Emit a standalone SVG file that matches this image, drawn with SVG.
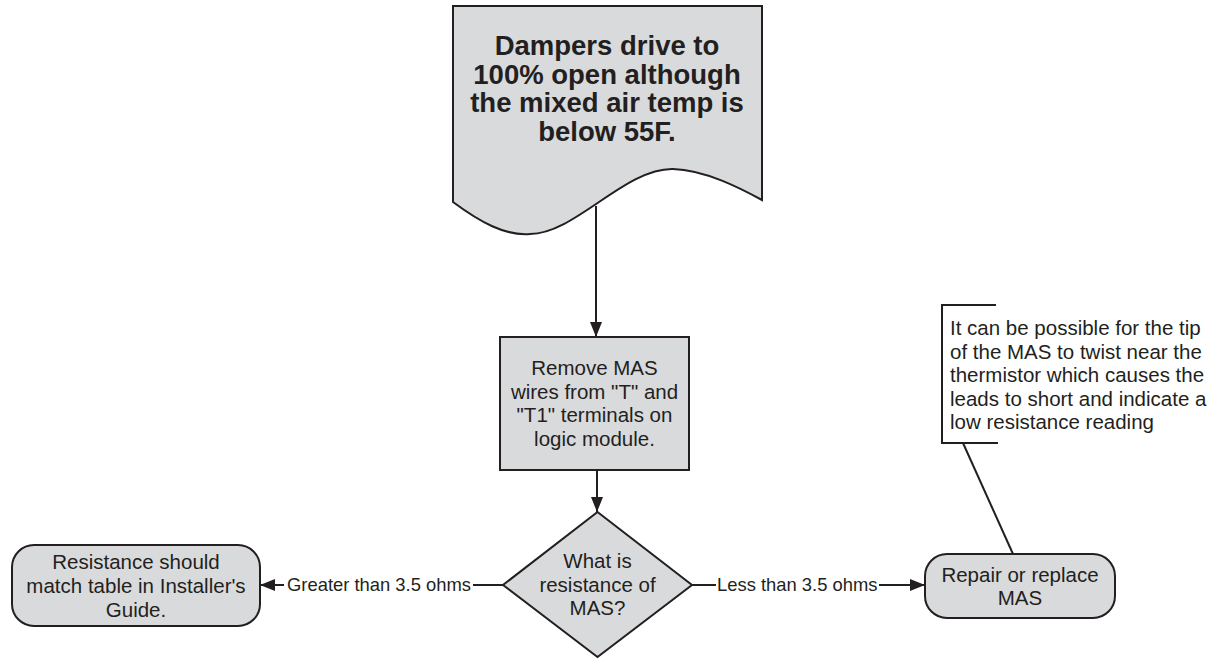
<svg xmlns="http://www.w3.org/2000/svg" width="1214" height="660" viewBox="0 0 1214 660">
<style>
.shape{fill:#d9dadc;stroke:#231f20;stroke-width:2}
.line{fill:none;stroke:#231f20;stroke-width:2}
.t{font-family:"Liberation Sans",Arial,sans-serif;font-size:20.5px;fill:#231f20;text-anchor:middle}
.b{font-weight:bold;font-size:27.5px}
.s{text-anchor:start}
.lbl{font-size:18.4px}
</style>
<defs>
<marker id="arr" viewBox="0 0 15 12" refX="15" refY="6" markerWidth="15" markerHeight="12" markerUnits="userSpaceOnUse" orient="auto">
<path d="M0,0 L15,6 L0,12 Z" fill="#231f20"/>
</marker>
</defs>
<rect width="1214" height="660" fill="#ffffff"/>
<g id="connectors">
<line class="line" x1="596" y1="206" x2="596" y2="337" marker-end="url(#arr)"/>
<line class="line" x1="597" y1="470" x2="597" y2="512" marker-end="url(#arr)"/>
<line class="line" x1="503" y1="585" x2="473" y2="585"/>
<line class="line" x1="284" y1="585" x2="260" y2="585" marker-end="url(#arr)"/>
<text class="t s lbl" x="287" y="591">Greater than 3.5 ohms</text>
<line class="line" x1="692" y1="585" x2="716" y2="585"/>
<line class="line" x1="879" y1="585" x2="925" y2="585" marker-end="url(#arr)"/>
<text class="t s lbl" x="717" y="591">Less than 3.5 ohms</text>
<line class="line" x1="963" y1="443" x2="1013" y2="554"/>
</g>
<g id="start">
<path class="shape" d="M453,6 H762 V200 C740,188 705,170 673,169 C625,168 575,234 530,234 C505,236 480,222 453,202 Z"/>
<text class="t b" x="607" y="55">Dampers drive to</text>
<text class="t b" x="607" y="83.5">100% open although</text>
<text class="t b" x="607" y="112">the mixed air temp is</text>
<text class="t b" x="607" y="140.5">below 55F.</text>
</g>
<g id="remove">
<rect class="shape" x="500" y="337" width="189" height="133"/>
<text class="t" x="594.5" y="375">Remove MAS</text>
<text class="t" x="594.5" y="398.5">wires from "T" and</text>
<text class="t" x="594.5" y="422">"T1" terminals on</text>
<text class="t" x="594.5" y="445.5">logic module.</text>
</g>
<g id="decision">
<path class="shape" d="M597.5,512 L692,585 L597.5,657 L503,585 Z"/>
<text class="t" x="597.5" y="568">What is</text>
<text class="t" x="597.5" y="592">resistance of</text>
<text class="t" x="597.5" y="615">MAS?</text>
</g>
<g id="match">
<rect class="shape" x="12" y="545" width="248" height="81" rx="22" ry="22"/>
<text class="t" x="136" y="569">Resistance should</text>
<text class="t" x="136" y="593">match table in Installer's</text>
<text class="t" x="136" y="617">Guide.</text>
</g>
<g id="repair">
<rect class="shape" x="925" y="554" width="190" height="64" rx="22" ry="22"/>
<text class="t" x="1020" y="582">Repair or replace</text>
<text class="t" x="1020" y="605">MAS</text>
</g>
<g id="note">
<path class="line" d="M996,305 H942 V443 H998"/>
<text class="t s" x="950" y="335">It can be possible for the tip</text>
<text class="t s" x="950" y="358.5">of the MAS to twist near the</text>
<text class="t s" x="950" y="382">thermistor which causes the</text>
<text class="t s" x="950" y="405.5">leads to short and indicate a</text>
<text class="t s" x="950" y="429">low resistance reading</text>
</g>
</svg>
